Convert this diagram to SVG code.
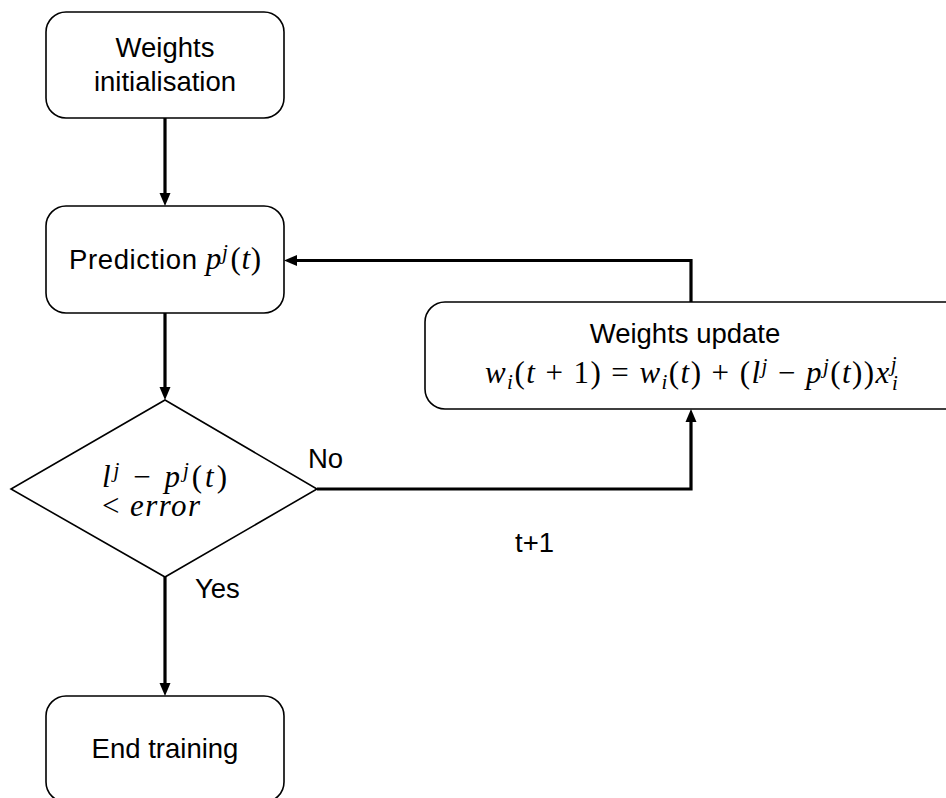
<svg xmlns="http://www.w3.org/2000/svg" width="946" height="798" viewBox="0 0 946 798">
<style>
.box{fill:#fff;stroke:#000;stroke-width:1.6}
.conn{fill:none;stroke:#000;stroke-width:3.2}
.t{font-family:"Liberation Sans","Arial",sans-serif;font-size:27.5px;fill:#000}
.m{font-family:"Liberation Serif","Times New Roman",serif;font-size:31px;fill:#000}
.i{font-style:italic}
.s{font-size:21px}
</style>
<defs>
<marker id="arr" markerUnits="userSpaceOnUse" markerWidth="13" markerHeight="13" viewBox="0 0 13 13" refX="6" refY="6.5" orient="auto">
<path d="M0,1 L13,6.5 L0,12 Z" fill="#000"/>
</marker>
</defs>
<rect width="946" height="798" fill="#fff"/>

<g id="connectors">
<path class="conn" d="M165,118 V199" marker-end="url(#arr)"/>
<path class="conn" d="M165,313 V393" marker-end="url(#arr)"/>
<path class="conn" d="M165,577 V689" marker-end="url(#arr)"/>
<path class="conn" d="M317,489 H691 V416" marker-end="url(#arr)"/>
<path class="conn" d="M691,302 V260.5 H291" marker-end="url(#arr)"/>
</g>

<g id="node-init">
<rect class="box" x="46" y="12" width="238" height="106" rx="20"/>
<text class="t" x="165" y="57" text-anchor="middle">Weights</text>
<text class="t" x="165" y="91" text-anchor="middle">initialisation</text>
</g>

<g id="node-prediction">
<rect class="box" x="46" y="206" width="238" height="107" rx="20"/>
<text x="69" y="269" textLength="192" lengthAdjust="spacing"><tspan class="t">Prediction </tspan><tspan class="m i">p</tspan><tspan class="m i s" dy="-10">j</tspan><tspan class="m" dy="10" dx="2">(</tspan><tspan class="m i">t</tspan><tspan class="m">)</tspan></text>
</g>

<g id="node-update">
<rect class="box" x="425" y="302" width="540" height="107" rx="20"/>
<text class="t" x="685" y="343" text-anchor="middle">Weights update</text>
<text x="485" y="383" textLength="413" lengthAdjust="spacing"><tspan class="m i">w</tspan><tspan class="m i s" dy="6">i</tspan><tspan class="m" dy="-6">(</tspan><tspan class="m i">t</tspan><tspan class="m"> + 1) = </tspan><tspan class="m i">w</tspan><tspan class="m i s" dy="6">i</tspan><tspan class="m" dy="-6">(</tspan><tspan class="m i">t</tspan><tspan class="m">) + (</tspan><tspan class="m i">l</tspan><tspan class="m i s" dy="-10">j</tspan><tspan class="m" dy="10"> − </tspan><tspan class="m i">p</tspan><tspan class="m i s" dy="-10">j</tspan><tspan class="m" dy="10">(</tspan><tspan class="m i">t</tspan><tspan class="m">))</tspan><tspan class="m i">x</tspan><tspan class="m i s" dy="-12">j</tspan><tspan class="m i s" dx="-6" dy="19">i</tspan></text>
</g>

<g id="node-decision">
<polygon class="box" points="165,400 317,489 165,577 11,489"/>
<text x="102" y="487" textLength="125" lengthAdjust="spacing"><tspan class="m i">l</tspan><tspan class="m i s" dy="-10">j</tspan><tspan class="m" dy="10">  − </tspan><tspan class="m i">p</tspan><tspan class="m i s" dy="-10">j</tspan><tspan class="m" dy="10">(</tspan><tspan class="m i">t</tspan><tspan class="m">)</tspan></text>
<text x="102" y="516" textLength="98" lengthAdjust="spacing"><tspan class="m">&lt; </tspan><tspan class="m i">error</tspan></text>
</g>

<g id="node-end">
<rect class="box" x="46" y="696" width="238" height="106" rx="20"/>
<text class="t" x="165" y="758" text-anchor="middle">End training</text>
</g>

<g id="labels">
<text class="t" x="308" y="468">No</text>
<text class="t" x="195" y="598">Yes</text>
<text class="t" x="515" y="552">t+1</text>
</g>
</svg>
